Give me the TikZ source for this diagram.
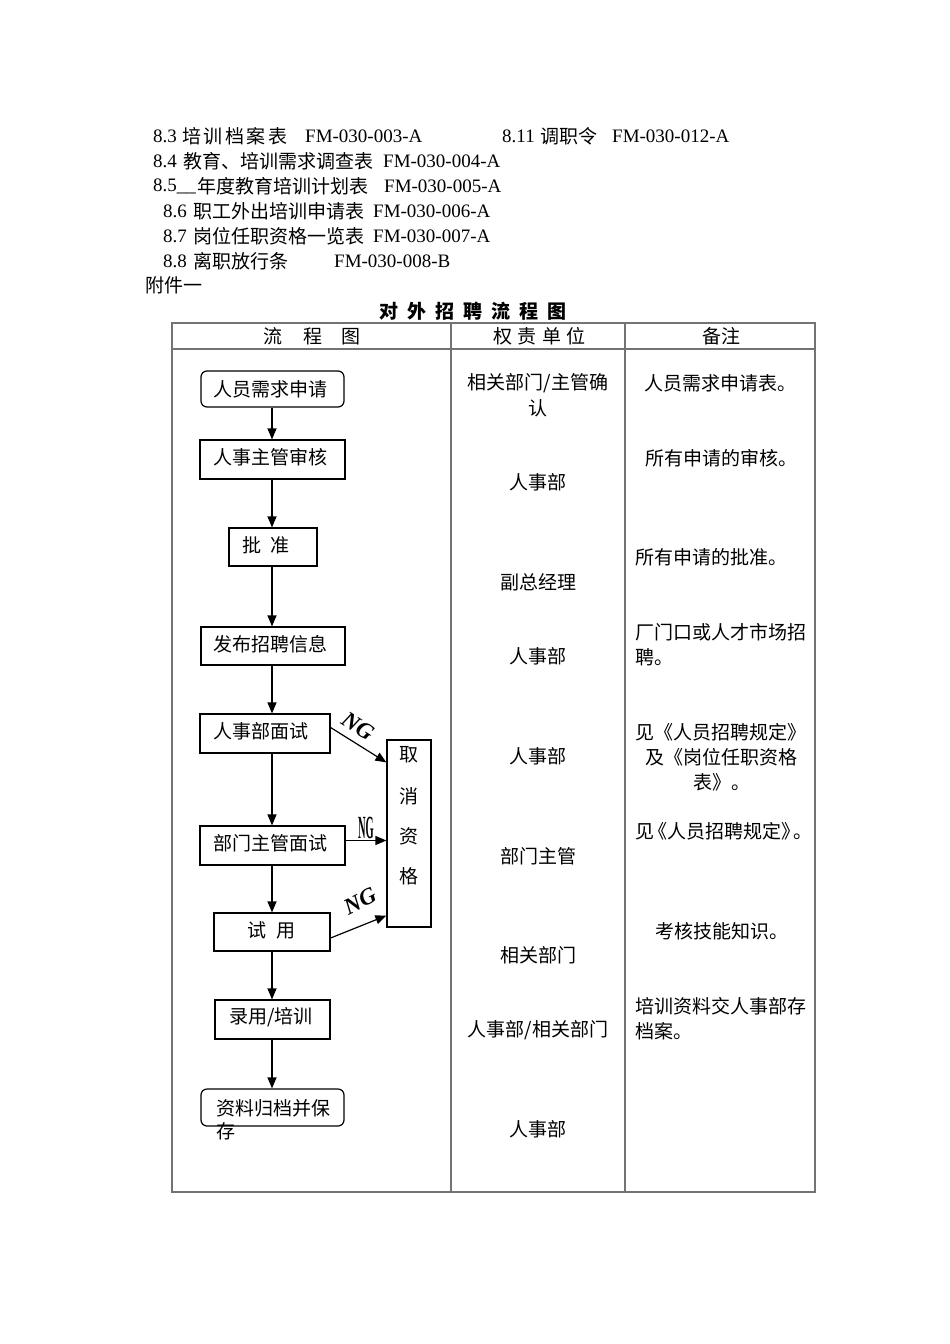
\documentclass[tikz,border=0pt]{standalone}
\usepackage{fontspec}
\setmainfont{Liberation Serif}
\newfontfamily\cjk{Noto Sans CJK SC}
\usetikzlibrary{arrows.meta}
\tikzset{
  lat/.style={inner sep=0pt, anchor=west, font=\fontsize{19}{23}\selectfont},
  zhw/.style={inner sep=0pt, anchor=west, font=\cjk\fontsize{19}{23}\selectfont},
  zhc/.style={inner sep=0pt, anchor=center, font=\cjk\fontsize{19}{23}\selectfont},
  fbox/.style={draw, line width=1.2pt, inner sep=0pt},
  rbox/.style={fbox, rounded corners=6pt},
  gridline/.style={draw=black!55, line width=1.2pt},
  arr/.style={line width=1.2pt, -{Triangle[length=11pt,width=9pt]}},
  nglab/.style={inner sep=0pt, font=\fontsize{23}{26}\selectfont\bfseries\itshape},
}
\begin{document}
\begin{tikzpicture}[x=1pt,y=-1pt]
\useasboundingbox (0,0) rectangle (950,1344);
\fill[white] (0,0) rectangle (950,1344);

% top list
\node[lat] (l1a) at (153,136) {8.3};
\node[zhw] (l1b) at (182,136) {培\hspace{2.5pt}训\hspace{2.5pt}档\hspace{2.5pt}案\hspace{2.5pt}表};
\node[lat] (l1c) at (305,136) {FM-030-003-A};
\node[lat] (l1d) at (502,136) {8.11};
\node[zhw] (l1e) at (540,136) {调职令};
\node[lat] (l1f) at (612,136) {FM-030-012-A};

\node[lat] (l2a) at (153,161) {8.4};
\node[zhw] (l2b) at (183,161) {教育、培训需求调查表};
\node[lat] (l2c) at (383,161) {FM-030-004-A};

\node[lat] (l3a) at (153,186) {8.5\_\_};
\node[zhw] (l3b) at (197,186) {年度教育培训计划表};
\node[lat] (l3c) at (384,186) {FM-030-005-A};

\node[lat] (l4a) at (163,211) {8.6};
\node[zhw] (l4b) at (193,211) {职工外出培训申请表};
\node[lat] (l4c) at (373,211) {FM-030-006-A};

\node[lat] (l5a) at (163,236) {8.7};
\node[zhw] (l5b) at (193,236) {岗位任职资格一览表};
\node[lat] (l5c) at (373,236) {FM-030-007-A};

\node[lat] (l6a) at (163,261) {8.8};
\node[zhw] (l6b) at (193,261) {离职放行条};
\node[lat] (l6c) at (334,261) {FM-030-008-B};

\node[zhw] (l7) at (145,285) {附件一};

% title
\node[zhw, font=\cjk\bfseries\fontsize{19}{23}\selectfont] (title) at (379,311)
  {对\hspace{9pt}外\hspace{9pt}招\hspace{9pt}聘\hspace{9pt}流\hspace{9pt}程\hspace{9pt}图};

% table
\draw[gridline] (172,323) rectangle (815,1192);
\draw[gridline] (172,349) -- (815,349);
\draw[gridline] (451,323) -- (451,1192);
\draw[gridline] (625,323) -- (625,1192);

\node[zhw] (h1) at (263,336) {流\hspace{21pt}程\hspace{19pt}图};
\node[zhw] (h2) at (493,336) {权\hspace{5.5pt}责\hspace{5.5pt}单\hspace{5.5pt}位};
\node[zhw] (h3) at (702,336) {备注};

% flow boxes
\coordinate (ax) at (272,0);
\node[rbox, minimum width=143pt, minimum height=36pt] (b1) at (272.5,389) {};
\node[fbox, minimum width=145pt, minimum height=39pt] (b2) at (272.5,459.5) {};
\node[fbox, minimum width=88pt, minimum height=38pt] (b3) at (273,547) {};
\node[fbox, minimum width=144pt, minimum height=38pt] (b4) at (273,646) {};
\node[fbox, minimum width=130pt, minimum height=39pt] (b5) at (265,733.5) {};
\node[fbox, minimum width=145pt, minimum height=39pt] (b6) at (272.5,845.5) {};
\node[fbox, minimum width=116pt, minimum height=38pt] (b7) at (272,932) {};
\node[fbox, minimum width=115pt, minimum height=39pt] (b8) at (272.5,1019.5) {};
\node[rbox, minimum width=143pt, minimum height=37pt] (b9) at (272.5,1107.5) {};
\node[fbox, minimum width=44pt, minimum height=187pt] (qx) at (409,833.5) {};

\node[zhw] (t1) at (213,389) {人员需求申请};
\node[zhw] (t2) at (213,457) {人事主管审核};
\node[zhw] (t3) at (242,545) {批\hspace{9pt}准};
\node[zhw] (t4) at (213,644) {发布招聘信息};
\node[zhw] (t5) at (213,731) {人事部面试};
\node[zhw] (t6) at (213,843) {部门主管面试};
\node[zhw] (t7) at (247,930) {试\hspace{10pt}用};
\node[zhw] (t8) at (229,1017) {录用/培训};
\node[zhw] (t9a) at (216,1108) {资料归档并保};
\node[zhw] (t9b) at (216,1131) {存};

\node[zhc] (q1) at (409,755) {取};
\node[zhc] (q2) at (409,796) {消};
\node[zhc] (q3) at (409,836) {资};
\node[zhc] (q4) at (409,876) {格};

% vertical arrows
\draw[arr] (b1.south -| ax) -- (b2.north -| ax);
\draw[arr] (b2.south -| ax) -- (b3.north -| ax);
\draw[arr] (b3.south -| ax) -- (b4.north -| ax);
\draw[arr] (b4.south -| ax) -- (b5.north -| ax);
\draw[arr] (b5.south -| ax) -- (b6.north -| ax);
\draw[arr] (b6.south -| ax) -- (b7.north -| ax);
\draw[arr] (b7.south -| ax) -- (b8.north -| ax);
\draw[arr] (b8.south -| ax) -- (b9.north -| ax);

% NG arrows
\draw[arr] ([yshift=6pt]b5.east) -- ([yshift=-23pt]qx.north west);
\draw[arr] ([yshift=5pt]b6.east) -- ([yshift=5pt]b6.east -| qx.west);
\draw[arr] ([yshift=-6pt]b7.east) -- ([yshift=12pt]qx.south west);

\node[nglab, rotate=-33] (ng1) at (358,726) {NG};
\node[inner sep=0pt] (ng2) at (366,828) {\scalebox{0.55}[1.7]{\fontsize{19}{23}\selectfont\bfseries NG}};
\node[nglab, rotate=27] (ng3) at (360,901) {NG};

% column 2
\node[zhc] (r1a) at (538,383) {相关部门/主管确};
\node[zhc] (r1b) at (538,408) {认};
\node[zhc] (r2) at (538,482) {人事部};
\node[zhc] (r3) at (538,582) {副总经理};
\node[zhc] (r4) at (538,656) {人事部};
\node[zhc] (r5) at (538,756) {人事部};
\node[zhc] (r6) at (538,856) {部门主管};
\node[zhc] (r7) at (538,955) {相关部门};
\node[zhc] (r8) at (538,1030) {人事部/相关部门};
\node[zhc] (r9) at (538,1129) {人事部};

% column 3
\node[zhw] (c1) at (644,383) {人员需求申请表。};
\node[zhw] (c2) at (645,458) {所有申请的审核。};
\node[zhw] (c3) at (635,557) {所有申请的批准。};
\node[zhw] (c4a) at (635,632) {厂门口或人才市场招};
\node[zhw] (c4b) at (635,657) {聘。};
\node[zhw] (c5a) at (635,732) {见《人员招聘规定》};
\node[zhw] (c5b) at (645,757) {及《岗位任职资格};
\node[zhw] (c5c) at (693,782) {表》。};
\node[zhw] (c6) at (635,831) {见\hspace{-6pt}《人员招聘规定》\hspace{-7pt}。};
\node[zhw] (c7) at (655,931) {考核技能知识。};
\node[zhw] (c8a) at (635,1006) {培训资料交人事部存};
\node[zhw] (c8b) at (635,1031) {档案。};
\end{tikzpicture}
\end{document}
